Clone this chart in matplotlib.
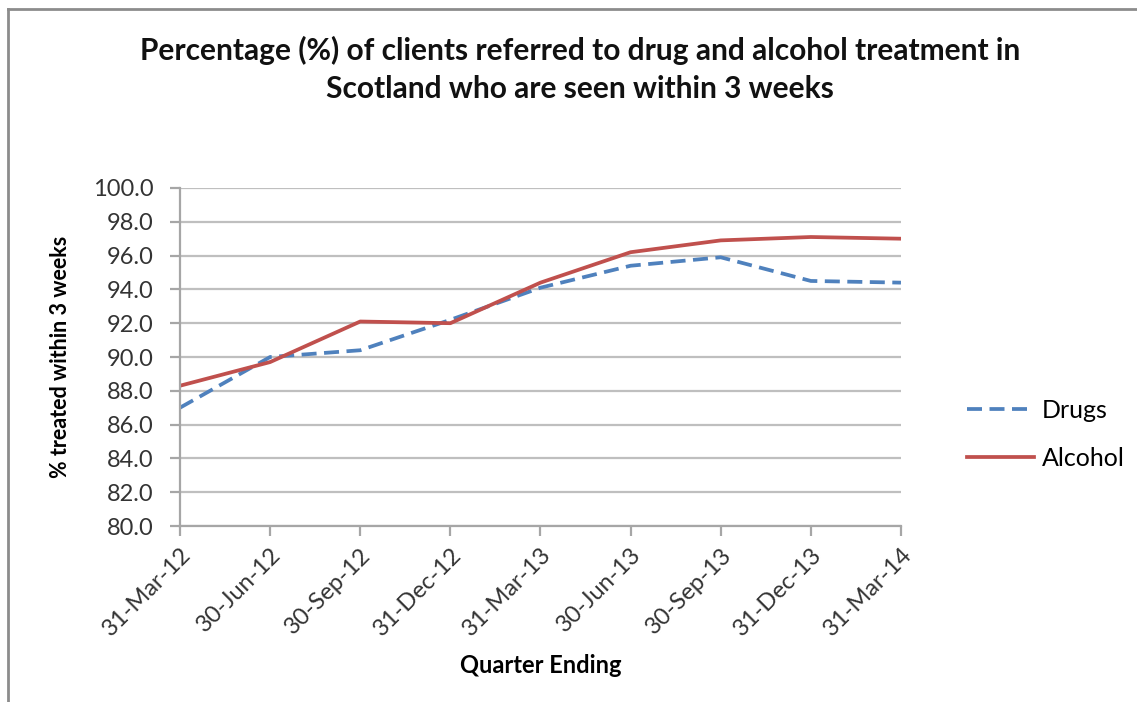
import matplotlib.pyplot as plt
import numpy as np

# 数据
quarters = ['31-Mar-12', '30-Jun-12', '30-Sep-12', '31-Dec-12', '31-Mar-13',
            '30-Jun-13', '30-Sep-13', '31-Dec-13', '31-Mar-14']
drugs = [87.0, 90.0, 90.4, 92.2, 94.1, 95.4, 95.9, 94.5, 94.4]
alcohol = [88.3, 89.7, 92.1, 92.0, 94.4, 96.2, 96.9, 97.1, 97.0]

plt.rcParams['font.family'] = ['Lato', 'DejaVu Sans']

fig = plt.figure(figsize=(11.37, 7.02), dpi=100)
ax = fig.add_axes([0.1583, 0.2507, 0.7924 - 0.1583, 0.7322 - 0.2507])

x = np.arange(len(quarters))
ax.plot(x, drugs, color='#4F81BD', lw=2.7, dashes=(4, 2), label='Drugs')
ax.plot(x, alcohol, color='#C0504D', lw=2.7, label='Alcohol')

ax.set_xlim(0, len(quarters) - 1)
ax.set_ylim(80, 100)
ax.set_yticks(np.arange(80, 100.1, 2))
ax.set_yticklabels(['%.1f' % v for v in np.arange(80, 100.1, 2)], fontsize=17, color='#333333')
ax.set_xticks(x)
ax.set_xticklabels(quarters, rotation=45, ha='right', rotation_mode='anchor',
                   fontsize=17, color='#333333')
ax.yaxis.grid(True, color='#BFBFBF', lw=1.6)
ax.set_axisbelow(True)
for s in ['top', 'right']:
    ax.spines[s].set_visible(False)
for s in ['left', 'bottom']:
    ax.spines[s].set_color('#A6A6A6')
    ax.spines[s].set_linewidth(1.6)
ax.tick_params(axis='both', color='#A6A6A6', width=1.6, length=7)
ax.tick_params(axis='y', pad=12)
ax.tick_params(axis='x', pad=6)

ax.set_xlabel('Quarter Ending', fontsize=17, fontweight='bold', labelpad=10)
ax.set_ylabel('% treated within 3 weeks', fontsize=15.5, fontweight='bold', labelpad=16)

fig.text(0.51, 0.901, 'Percentage (%) of clients referred to drug and alcohol treatment in\nScotland who are seen within 3 weeks',
         ha='center', va='center', fontsize=21.5, fontweight='bold', linespacing=1.4, color='#111111')

ax.legend(loc='center left', bbox_to_anchor=(1.06, 0.27), frameon=False, fontsize=18,
          handlelength=2.7, labelspacing=1.0, handletextpad=0.3)

# 外框
fig.add_artist(plt.Line2D([0.007, 0.007], [0, 0.987], color='#8C8C8C', lw=2))
fig.add_artist(plt.Line2D([0.007, 1.0], [0.987, 0.987], color='#8C8C8C', lw=2))

fig.savefig('out.png', dpi=100)
